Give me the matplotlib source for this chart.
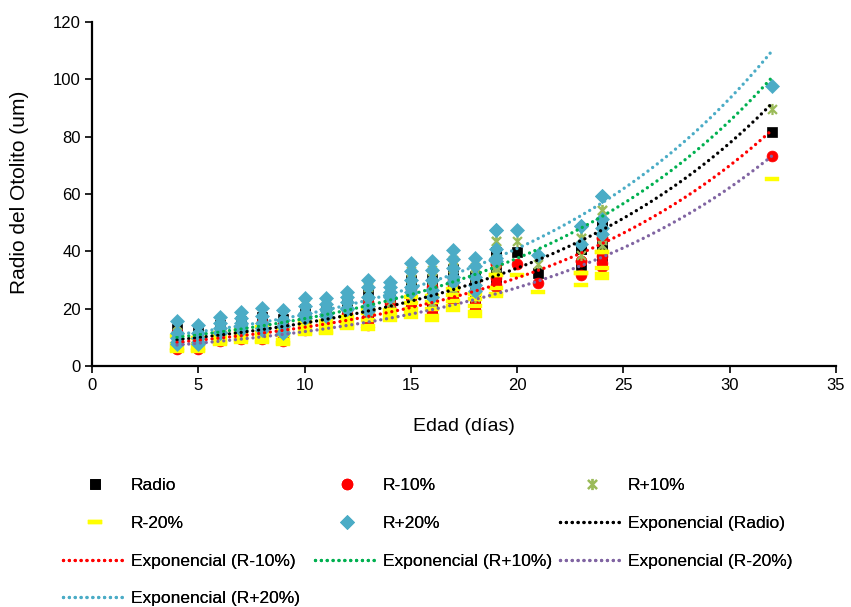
import numpy as np
import matplotlib
matplotlib.use("Agg")
import matplotlib.pyplot as plt
from matplotlib.path import Path

plt.rcParams['font.family'] = ['Liberation Sans', 'DejaVu Sans']

# ---------------- data ----------------
edad = [4, 4, 4, 4, 4,
        5, 5, 5, 5, 5,
        6, 6, 6, 6, 6,
        7, 7, 7, 7, 7,
        8, 8, 8, 8, 8,
        9, 9, 9, 9, 9,
        10, 10, 10, 10, 10,
        11, 11, 11, 11, 11,
        12, 12, 12, 12, 12,
        13, 13, 13, 13, 13,
        14, 14, 14, 14,
        15, 15, 15, 15, 15,
        16, 16, 16, 16, 16,
        17, 17, 17, 17, 17,
        18, 18, 18, 18, 18,
        19, 19, 19, 19, 19,
        20,
        21,
        23, 23, 23,
        24, 24, 24, 24, 24,
        32]

radio = [6.5, 7.0, 8.0, 9.5, 13.0,
         6.5, 7.0, 8.0, 9.5, 12.0,
         9.5, 10.0, 11.0, 12.5, 14.2,
         10.5, 11.3, 12.5, 14.0, 15.7,
         10.5, 11.0, 12.5, 14.5, 17.0,
         9.5, 10.0, 11.5, 13.5, 16.3,
         14.0, 14.4, 15.5, 17.5, 19.8,
         14.5, 15.0, 16.5, 18.0, 19.8,
         16.5, 17.0, 18.5, 20.0, 21.5,
         16.0, 17.5, 20.0, 23.0, 25.0,
         20.0, 21.5, 23.0, 24.4,
         21.5, 23.0, 25.0, 27.5, 30.0,
         20.0, 22.0, 25.0, 28.0, 30.5,
         24.5, 26.0, 28.5, 31.0, 33.7,
         21.7, 23.5, 26.0, 29.0, 31.4,
         30.5, 31.5, 34.0, 39.7, 39.7,
         39.7,
         32.3,
         35.3, 40.7, 40.7,
         38.4, 40.0, 42.7, 49.5, 49.5,
         81.5]

r_menos10 = [5.9, 6.3, 7.2, 8.6, 11.7,
             5.9, 6.3, 7.2, 8.6, 10.8,
             8.6, 9.0, 9.9, 11.3, 12.8,
             9.5, 10.2, 11.3, 12.6, 14.1,
             9.5, 9.9, 11.3, 13.1, 15.3,
             8.6, 9.0, 10.4, 12.2, 14.7,
             12.6, 13.0, 14.0, 15.8, 17.8,
             13.1, 13.5, 14.9, 16.2, 17.8,
             14.9, 15.3, 16.7, 18.0, 19.4,
             14.4, 15.8, 18.0, 20.7, 22.5,
             18.0, 19.4, 20.7, 22.0,
             19.4, 20.7, 22.5, 24.8, 27.0,
             18.0, 19.8, 22.5, 25.2, 27.5,
             22.1, 23.4, 25.7, 27.9, 30.3,
             19.5, 21.2, 23.4, 26.1, 28.3,
             27.5, 28.4, 30.6, 35.7, 35.7,
             35.7,
             29.1,
             31.8, 36.6, 36.6,
             34.6, 36.0, 38.4, 44.6, 44.6,
             73.4]

r_mas10 = [7.2, 7.7, 8.8, 10.5, 14.3,
           7.2, 7.7, 8.8, 10.5, 13.2,
           10.5, 11.0, 12.1, 13.8, 15.6,
           11.6, 12.4, 13.8, 15.4, 17.3,
           11.6, 12.1, 13.8, 16.0, 18.7,
           10.5, 11.0, 12.7, 14.9, 17.9,
           15.4, 15.8, 17.1, 19.3, 21.8,
           16.0, 16.5, 18.2, 19.8, 21.8,
           18.2, 18.7, 20.4, 22.0, 23.7,
           17.6, 19.3, 22.0, 25.3, 27.5,
           22.0, 23.7, 25.3, 26.8,
           23.7, 25.3, 27.5, 30.3, 33.0,
           22.0, 24.2, 27.5, 30.8, 33.6,
           27.0, 28.6, 31.4, 34.1, 37.1,
           23.9, 25.9, 28.6, 31.9, 34.5,
           33.6, 34.7, 37.4, 43.7, 43.7,
           43.7,
           35.5,
           38.8, 44.8, 44.8,
           42.2, 44.0, 47.0, 54.5, 54.5,
           89.7]

r_menos20 = [5.2, 5.6, 6.4, 7.6, 10.4,
             5.2, 5.6, 6.4, 7.6, 9.6,
             7.6, 8.0, 8.8, 10.0, 11.4,
             8.4, 9.0, 10.0, 11.2, 12.6,
             8.4, 8.8, 10.0, 11.6, 13.6,
             7.6, 8.0, 9.2, 10.8, 13.0,
             11.2, 11.5, 12.4, 14.0, 15.8,
             11.6, 12.0, 13.2, 14.4, 15.8,
             13.2, 13.6, 14.8, 16.0, 17.2,
             12.8, 14.0, 16.0, 18.4, 20.0,
             16.0, 17.2, 18.4, 19.5,
             17.2, 18.4, 20.0, 22.0, 24.0,
             16.0, 17.6, 20.0, 22.4, 24.4,
             19.6, 20.8, 22.8, 24.8, 27.0,
             17.4, 18.8, 20.8, 23.2, 25.1,
             24.4, 25.2, 27.2, 31.8, 31.8,
             31.8,
             25.8,
             28.2, 32.6, 32.6,
             30.7, 32.0, 34.2, 39.6, 39.6,
             65.2]

r_mas20 = [7.8, 8.4, 9.6, 11.4, 15.6,
           7.8, 8.4, 9.6, 11.4, 14.4,
           11.4, 12.0, 13.2, 15.0, 17.0,
           12.6, 13.6, 15.0, 16.8, 18.8,
           12.6, 13.2, 15.0, 17.4, 20.4,
           11.4, 12.0, 13.8, 16.2, 19.6,
           16.8, 17.3, 18.6, 21.0, 23.8,
           17.4, 18.0, 19.8, 21.6, 23.8,
           19.8, 20.4, 22.2, 24.0, 25.8,
           19.2, 21.0, 24.0, 27.6, 30.0,
           24.0, 25.8, 27.6, 29.3,
           25.8, 27.6, 30.0, 33.0, 36.0,
           24.0, 26.4, 30.0, 33.6, 36.6,
           29.4, 31.2, 34.2, 37.2, 40.4,
           26.0, 28.2, 31.2, 34.8, 37.7,
           36.6, 37.8, 40.8, 47.6, 47.6,
           47.6,
           38.8,
           42.4, 48.8, 48.8,
           46.1, 48.0, 51.2, 59.4, 59.4,
           97.8]

series_names = ["Radio", "R-10%", "R+10%", "R-20%", "R+20%"]
x_ticks = [0, 5, 10, 15, 20, 25, 30, 35]
y_ticks = [0, 20, 40, 60, 80, 100, 120]

# ---------------- styles ----------------
asterisk = Path([(-1, -1), (1, 1), (-1, 1), (1, -1), (0, -1.25), (0, 1.25)],
                [Path.MOVETO, Path.LINETO, Path.MOVETO, Path.LINETO, Path.MOVETO, Path.LINETO])
dash = Path([(-1, -0.28), (1, -0.28), (1, 0.28), (-1, 0.28), (-1, -0.28)],
            [Path.MOVETO, Path.LINETO, Path.LINETO, Path.LINETO, Path.CLOSEPOLY])

marker_styles = [
    dict(marker='s', ms=7.0, mfc='black', mec='black', mew=0.5),
    dict(marker='o', ms=7.8, mfc='#FF0000', mec='#FF0000', mew=0.5),
    dict(marker=asterisk, ms=8.0, mfc='none', mec='#9BBB59', mew=1.6),
    dict(marker=dash, ms=9.5, mfc='#FFFF00', mec='#FFFF00', mew=0.3),
    dict(marker='D', ms=6.8, mfc='#4BACC6', mec='#4BACC6', mew=0.5),
]
trend_colors = ['black', '#FF0000', '#00B050', '#8064A2', '#4BACC6']

fig = plt.figure(figsize=(8.51, 6.07), dpi=100)
ax = fig.add_axes([92 / 851, 1 - 366 / 607, (836 - 92) / 851, (366 - 22) / 607])

all_series = [radio, r_menos10, r_mas10, r_menos20, r_mas20]
x = np.array(edad, dtype=float)
scatter_handles = []
for name, vals, st in zip(series_names, all_series, marker_styles):
    h, = ax.plot(x, vals, linestyle='none', label=name, zorder=3, **st)
    scatter_handles.append(h)

# exponential trend lines (least squares on ln y, as in the spreadsheet)
trend_handles = {}
xx = np.linspace(x.min(), x.max(), 200)
for name, vals, col in zip(series_names, all_series, trend_colors):
    b, lna = np.polyfit(x, np.log(vals), 1)
    yy = np.exp(lna) * np.exp(b * xx)
    h, = ax.plot(xx, yy, color=col, lw=2.4, linestyle=(0, (0.01, 1.75)),
                 dash_capstyle='round', zorder=4, label=f"Exponencial ({name})")
    trend_handles[name] = h

ax.set_xlim(0, 35)
ax.set_ylim(0, 120)
ax.set_xticks(x_ticks)
ax.set_yticks(y_ticks)
for s in ['top', 'right']:
    ax.spines[s].set_visible(False)
for s in ['left', 'bottom']:
    ax.spines[s].set_linewidth(1.6)
ax.tick_params(axis='both', direction='out', length=5, width=1.2, labelsize=12)
ax.tick_params(axis='y', pad=3)
ax.tick_params(axis='x', pad=4)

ax.set_xlabel("Edad (días)", fontsize=14)
ax.set_ylabel("Radio del Otolito (um)", fontsize=15)
ax.xaxis.set_label_coords(0.5, -0.152)
ax.yaxis.set_label_coords(-0.085, 0.505)

# legend: three columns, row-major order
col1 = [scatter_handles[0], scatter_handles[3], trend_handles["R-10%"], trend_handles["R+20%"]]
col2 = [scatter_handles[1], scatter_handles[4], trend_handles["R+10%"]]
col3 = [scatter_handles[2], trend_handles["Radio"], trend_handles["R-20%"]]
top = 1 - 478 / 607
for hs, xl in zip([col1, col2, col3], [63, 315, 560]):
    leg = fig.legend(handles=hs, labels=[h.get_label() for h in hs], loc='upper left',
                     bbox_to_anchor=(xl / 851, top), frameon=False, fontsize=12.5,
                     borderpad=0, borderaxespad=0, handlelength=3.65, handletextpad=0.25,
                     labelspacing=1.3, numpoints=1)
    fig.add_artist(leg)

fig.savefig("out.png", dpi=100)
